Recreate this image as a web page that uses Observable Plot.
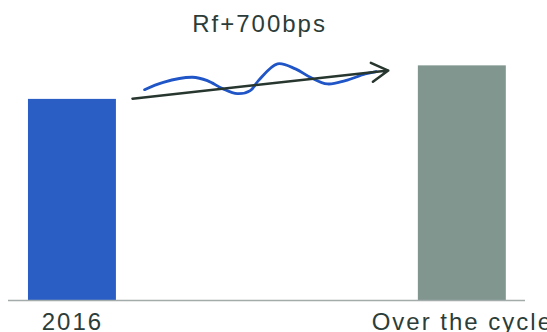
<!DOCTYPE html>
<html>
<head>
<meta charset="utf-8">
<script src="https://cdn.jsdelivr.net/npm/d3@7"></script>
<script src="https://cdn.jsdelivr.net/npm/@observablehq/plot@0.6"></script>
<style>
  html, body { margin: 0; padding: 0; background: #fff; }
  #chart svg { display: block; }
</style>
</head>
<body>
<div id="chart"></div>
<script>
// Expected return: the 2016 level against the level over the cycle
const categories = ["2016", "Over the cycle"];
const values = [6, 7];
const barColors = ["#2a5ec5", "#80968f"];

// Spread annotation above the bars
const spreadLabel = "Rf+700bps";
const labelPos = [0.48, 8.0];

// Trend arrow from the 2016 level towards the cycle level
const arrowFrom = [0.154, 6.02];
const arrowTo = [0.81, 6.86];

// Wavy path showing the bumpy ride along the way
const waveX = [0.185, 0.233, 0.308, 0.346, 0.385, 0.423, 0.456, 0.477, 0.526, 0.572, 0.61, 0.654, 0.7, 0.751, 0.779];
const waveY = [6.29, 6.51, 6.66, 6.56, 6.32, 6.17, 6.26, 6.56, 7.06, 6.91, 6.66, 6.46, 6.56, 6.76, 6.83];

const halfWidth = 0.1128;
const bars = categories.map((c, i) => ({
  category: c, index: i, value: values[i], color: barColors[i]
}));
const wave = waveX.map((x, i) => ({x, y: waveY[i]}));

const textColor = "#2c3d39";
const font = "'Liberation Sans', Arial, sans-serif";

const chart = Plot.plot({
  width: 547,
  height: 332,
  marginTop: 0,
  marginBottom: 32,
  marginLeft: 8,
  marginRight: 22,
  style: {fontFamily: font, background: "#fff", overflow: "visible"},
  x: {domain: [-0.164, 1.162]},
  y: {domain: [0, 8.95], axis: null},
  marks: [
    Plot.rectY(bars, {
      x1: d => d.index - halfWidth,
      x2: d => d.index + halfWidth,
      y: "value",
      fill: d => d.color
    }),
    Plot.ruleY([0], {stroke: "#a3abab", strokeWidth: 1.5}),
    Plot.axisX({
      ticks: categories.map((_, i) => i),
      tickFormat: i => categories[i],
      tickSize: 0,
      tickPadding: 12,
      fontSize: 24,
      fill: textColor,
      label: null
    }),
    Plot.line(wave, {
      x: "x", y: "y",
      curve: "catmull-rom",
      stroke: "#1f55c6",
      strokeWidth: 2.8
    }),
    Plot.arrow([{}], {
      x1: () => arrowFrom[0], y1: () => arrowFrom[1],
      x2: () => arrowTo[0], y2: () => arrowTo[1],
      stroke: "#27362f",
      strokeWidth: 2.5,
      headAngle: 60,
      headLength: 11.4
    }),
    Plot.text([spreadLabel], {
      x: () => labelPos[0],
      y: () => labelPos[1],
      text: d => d,
      fontSize: 24,
      fill: textColor,
      lineAnchor: "bottom"
    })
  ]
});

chart.querySelectorAll("g[aria-label='x-axis tick label'] text, g[aria-label='text'] text").forEach(t => {
  t.style.letterSpacing = "2px";
});
document.getElementById("chart").appendChild(chart);
</script>
</body>
</html>
